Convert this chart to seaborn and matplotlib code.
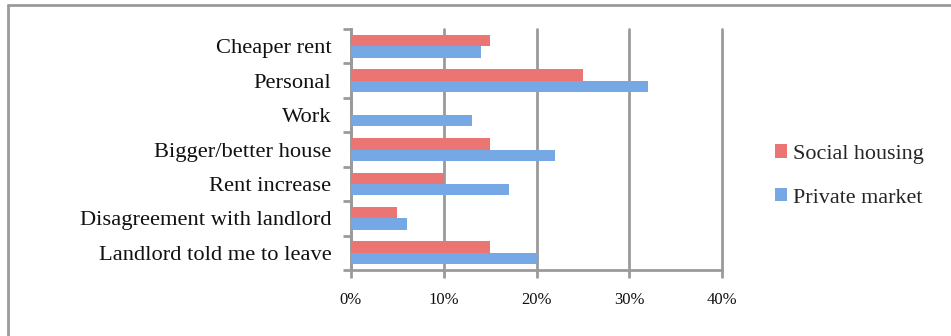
import matplotlib
matplotlib.use("Agg")
import matplotlib.pyplot as plt
import seaborn as sns
import pandas as pd
from matplotlib.patches import Patch
from matplotlib.ticker import FuncFormatter, FixedLocator

categories = ["Cheaper rent", "Personal", "Work", "Bigger/better house",
              "Rent increase", "Disagreement with landlord", "Landlord told me to leave"]
social_housing = [15, 25, 0, 15, 10, 5, 15]
private_market = [14, 32, 13, 22, 17, 6, 20]
series_names = ["Social housing", "Private market"]
x_ticks = [0, 10, 20, 30, 40]

rows = []
for c, s, p in zip(categories, social_housing, private_market):
    rows.append({"reason": c, "series": series_names[0], "value": s})
    rows.append({"reason": c, "series": series_names[1], "value": p})
df = pd.DataFrame(rows)

sns.set_theme(style="white")
plt.rcParams["font.family"] = ["Liberation Serif", "DejaVu Serif"]

colors = {"Social housing": "#EB7572", "Private market": "#76A8E6"}

fig = plt.figure(figsize=(9.51, 3.36), dpi=100)
ax = fig.add_axes([351/951, 1-270/336, (722-351)/951, (270-29)/336])

sns.barplot(data=df, y="reason", x="value", hue="series", order=categories,
            hue_order=series_names, palette=colors, orient="h", width=0.66,
            ax=ax, legend=False, saturation=1, linewidth=0, zorder=3)

ax.set_xlim(0, 40)
ax.set_ylim(len(categories) - 0.5, -0.5)
ax.xaxis.set_major_locator(FixedLocator(x_ticks))
ax.xaxis.set_major_formatter(FuncFormatter(lambda v, p: f"{int(v)}%"))
ax.grid(axis="x", color="#9a9a9a", linewidth=2.0, zorder=0)
for gl in ax.get_xgridlines():
    gl.set_clip_on(False)
ax.set_axisbelow(True)
ax.set_xlabel("")
ax.set_ylabel("")

for side in ["top", "right"]:
    ax.spines[side].set_visible(False)
for side in ["left", "bottom"]:
    ax.spines[side].set_color("#9a9a9a")
    ax.spines[side].set_linewidth(2.0)

# y ticks at band boundaries, labels at centers
ax.set_yticks([i - 0.5 for i in range(len(categories) + 1)], minor=False)
ax.set_yticklabels([""] * (len(categories) + 1))
ax.set_yticks(range(len(categories)), minor=True)
ax.set_yticklabels(categories, minor=True, fontsize=16.2, color="#111111")
ax.tick_params(axis="y", which="major", left=True, length=6, width=2, color="#9a9a9a")
ax.tick_params(axis="y", which="minor", left=False, length=0, pad=14)
ax.tick_params(axis="x", bottom=True, length=6, width=2, color="#9a9a9a",
               labelsize=12, labelcolor="#111111", pad=10)

handles = [Patch(facecolor=colors[n], edgecolor="none", label=n) for n in series_names]
fig.legend(handles=handles, loc="center left", bbox_to_anchor=(775/951, 1-176/336),
           frameon=False, fontsize=15.9, handlelength=0.55, handleheight=0.55,
           handletextpad=0.25, labelspacing=1.1, borderaxespad=0, borderpad=0)

# outer frame (top and left visible)
fig.add_artist(plt.Line2D([8/951, 1.0], [1-5/336, 1-5/336], transform=fig.transFigure,
                          color="#9a9a9a", linewidth=2))
fig.add_artist(plt.Line2D([8/951, 8/951], [0, 1-5/336], transform=fig.transFigure,
                          color="#9a9a9a", linewidth=2))

fig.savefig("out.png", dpi=100)
